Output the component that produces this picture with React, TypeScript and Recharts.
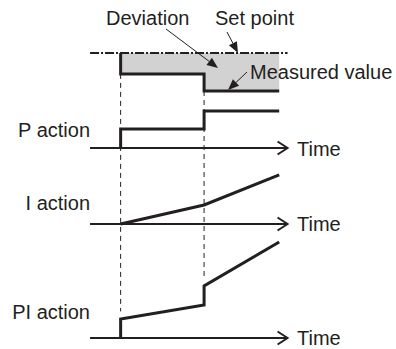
import React from "react";
import { ComposedChart, Line, Area, XAxis, YAxis } from "recharts";

// ---- data (time units; steps of deviation at t=2 and t=5) ----
const axisTimes = [0.9, 8];
const setPointT = [0.9, 8];
const setPointV = [4, 4];
const measuredT = [2, 2, 5, 5, 7.7];
const measuredV = [4, 2.9, 2.9, 2.0, 2.0];
const bandT = [2, 5, 5, 7.7];
const bandLow = [2.9, 2.9, 2.0, 2.0];
const bandHigh = [4, 4, 4, 4];
const pT = [2, 2, 5, 5, 7.7];
const pV = [0, 1, 1, 1.95, 1.95];
const iT = [2, 5, 7.7];
const iV = [0, 1, 2.58];
const piT = [2, 2, 5, 5, 7.7];
const piV = [0, 1, 1.74, 2.74, 5.05];
const guideLeftT = [2, 2];
const guideLeftV = [2.9, -9.6];
const guideRightT = [5, 5];
const guideRightV = [2.0, -7.8];

const W = 396;
const H = 349;
const UNIT = 19; // px per value unit on every panel
const panelDomain = (base: number) => [-(H - base) / UNIT, base / UNIT];

const TXT = "#231f20";
const FONT = "'Liberation Sans', Arial, Helvetica, sans-serif";

const toRows = (t: number[], v: number[]) => t.map((x, i) => ({ t: x, v: v[i] }));
const axisRows = axisTimes.map((x) => ({ t: x, v: 0 }));
const bandRows = bandT.map((x, i) => ({ t: x, band: [bandLow[i], bandHigh[i]] }));

const chevron = (props: any) => {
  const { cx, cy, index } = props;
  if (index !== 1) return <g key={`c${index}`} />;
  return (
    <path
      key={`c${index}`}
      d={`M${cx - 10},${cy - 6.5}L${cx},${cy}L${cx - 10},${cy + 6.5}`}
      fill="none"
      stroke={TXT}
      strokeWidth={2}
    />
  );
};

const Arrow = ({ x1, y1, x2, y2 }: { x1: number; y1: number; x2: number; y2: number }) => {
  const a = Math.atan2(y2 - y1, x2 - x1);
  const L = 11;
  const hw = 4.5;
  const bx = x2 - L * Math.cos(a);
  const by = y2 - L * Math.sin(a);
  const px = -Math.sin(a) * hw;
  const py = Math.cos(a) * hw;
  return (
    <g>
      <line x1={x1} y1={y1} x2={bx} y2={by} stroke={TXT} strokeWidth={1} />
      <polygon points={`${x2},${y2} ${bx + px},${by + py} ${bx - px},${by - py}`} fill={TXT} />
    </g>
  );
};

const T = ({ x, y, children, anchor = "start" }: any) => (
  <text x={x} y={y} fontFamily={FONT} fontSize={20} fill={TXT} textAnchor={anchor}>
    {children}
  </text>
);

export default function App() {
  return (
    <div style={{ position: "absolute", left: 0, top: 0, width: W, height: H, background: "#fff" }}>
      <ComposedChart width={W} height={H} margin={{ top: 0, right: 25, bottom: 0, left: 65 }}>
        <XAxis dataKey="t" type="number" domain={[0, 11]} allowDataOverflow hide />
        <YAxis yAxisId="top" type="number" domain={panelDomain(129)} allowDataOverflow hide />
        <YAxis yAxisId="p" type="number" domain={panelDomain(148)} allowDataOverflow hide />
        <YAxis yAxisId="i" type="number" domain={panelDomain(224)} allowDataOverflow hide />
        <YAxis yAxisId="pi" type="number" domain={panelDomain(338)} allowDataOverflow hide />

        <Area
          yAxisId="top"
          data={bandRows}
          dataKey="band"
          type="linear"
          stroke="none"
          fill="#d2d2d2"
          fillOpacity={1}
          isAnimationActive={false}
        />
        <Line
          yAxisId="top"
          data={toRows(setPointT, setPointV)}
          dataKey="v"
          type="linear"
          stroke={TXT}
          strokeWidth={2}
          strokeDasharray="9 2 2 2"
          dot={false}
          isAnimationActive={false}
        />
        <Line
          yAxisId="top"
          data={toRows(guideLeftT, guideLeftV)}
          dataKey="v"
          type="linear"
          stroke={TXT}
          strokeWidth={1}
          strokeDasharray="5 4"
          dot={false}
          isAnimationActive={false}
        />
        <Line
          yAxisId="top"
          data={toRows(guideRightT, guideRightV)}
          dataKey="v"
          type="linear"
          stroke={TXT}
          strokeWidth={1}
          strokeDasharray="5 4"
          dot={false}
          isAnimationActive={false}
        />
        <Line
          yAxisId="top"
          data={toRows(measuredT, measuredV)}
          dataKey="v"
          type="linear"
          stroke={TXT}
          strokeWidth={3}
          strokeLinejoin="miter"
          dot={false}
          isAnimationActive={false}
        />

        {(["p", "i", "pi"] as const).map((id) => (
          <Line
            key={`ax-${id}`}
            yAxisId={id}
            data={axisRows}
            dataKey="v"
            type="linear"
            stroke={TXT}
            strokeWidth={2}
            dot={chevron}
            isAnimationActive={false}
          />
        ))}

        <Line yAxisId="p" data={toRows(pT, pV)} dataKey="v" type="linear" stroke={TXT} strokeWidth={3} strokeLinejoin="miter" dot={false} isAnimationActive={false} />
        <Line yAxisId="i" data={toRows(iT, iV)} dataKey="v" type="linear" stroke={TXT} strokeWidth={3} strokeLinejoin="miter" dot={false} isAnimationActive={false} />
        <Line yAxisId="pi" data={toRows(piT, piV)} dataKey="v" type="linear" stroke={TXT} strokeWidth={3} strokeLinejoin="miter" dot={false} isAnimationActive={false} />
      </ComposedChart>

      <svg
        width={W}
        height={H}
        style={{ position: "absolute", left: 0, top: 0, pointerEvents: "none", overflow: "visible" }}
      >
        <Arrow x1={166} y1={29} x2={218} y2={68} />
        <Arrow x1={227} y1={32} x2={238} y2={53} />
        <Arrow x1={247} y1={72} x2={228} y2={90} />

        <T x={106} y={25}>Deviation</T>
        <T x={215} y={25}>Set point</T>
        <T x={250} y={79}>Measured value</T>
        <T x={90} y={137} anchor="end">P action</T>
        <T x={90} y={210} anchor="end">I action</T>
        <T x={90} y={319} anchor="end">PI action</T>
        <T x={297} y={156}>Time</T>
        <T x={297} y={231}>Time</T>
        <T x={297} y={345}>Time</T>
      </svg>
    </div>
  );
}
